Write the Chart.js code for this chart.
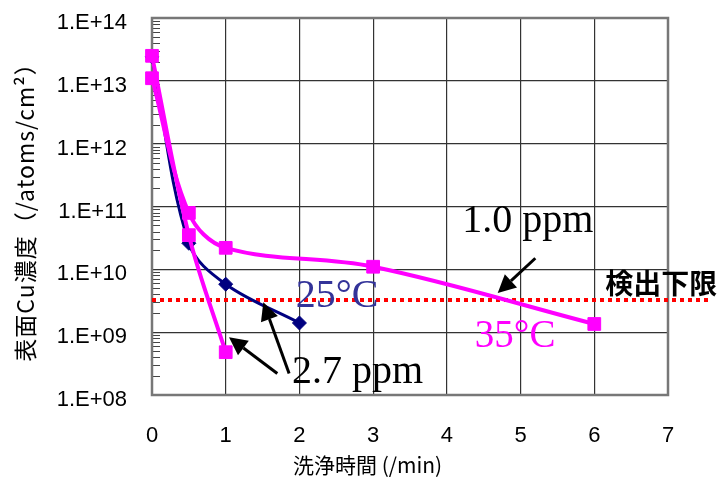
<!DOCTYPE html>
<html><head><meta charset="utf-8">
<script src="https://cdn.jsdelivr.net/npm/chart.js@4/dist/chart.umd.min.js"></script>
<style>html,body{margin:0;padding:0;background:#fff}#wrap{width:719px;height:479px}</style>
</head><body><div id="wrap"><canvas id="c" width="719" height="479"></canvas></div>
<script>
// ---- data ----
const xTicks = [0, 1, 2, 3, 4, 5, 6, 7];
const yTicks = [1e8, 1e9, 1e10, 1e11, 1e12, 1e13, 1e14];
const yTickLabels = ['1.E+08', '1.E+09', '1.E+10', '1.E+11', '1.E+12', '1.E+13', '1.E+14'];
const xTitle = '洗浄時間 (/min)';
const yTitle = '表面Cu濃度（/atoms/cm²）';

const time25 = [0, 0.5, 1, 2];
const conc25 = [2.4e13, 2.6e10, 5.8e9, 1.4e9];          // 25°C, 2.7 ppm
const time35a = [0, 0.5, 1];
const conc35a = [2.5e13, 3.5e10, 4.8e8];                // 35°C, 2.7 ppm
const time35b = [0, 0.5, 1, 3, 6];
const conc35b = [1.1e13, 7.9e10, 2.2e10, 1.1e10, 1.35e9]; // 35°C, 1.0 ppm
const limitX = [0, 7.57];
const limitY = [3.25e9, 3.25e9];                        // 検出下限

// annotations in data coordinates
const labels = [
  {text: '1.0 ppm', x: 4.21, y: 3.9e10, color: '#000', font: '40px "Liberation Serif", "Times New Roman", serif'},
  {text: '25°C', x: 1.95, y: 2.5e9, color: '#333399', font: '40px "Liberation Serif", "Times New Roman", serif'},
  {text: '35°C', x: 4.38, y: 5.8e8, color: '#FF00FF', font: '39px "Liberation Serif", "Times New Roman", serif'},
  {text: '2.7 ppm', x: 1.90, y: 1.55e8, color: '#000', font: '40px "Liberation Serif", "Times New Roman", serif'},
  {text: '検出下限', x: 6.15, y: 4.05e9, color: '#000', font: 'bold 28px "Noto Sans CJK JP", sans-serif'}
];
const arrows = [
  {x1: 5.20, y1: 1.5e10, x2: 4.69, y2: 4.2e9},
  {x1: 1.70, y1: 2.2e8, x2: 1.045, y2: 8.3e8},
  {x1: 1.86, y1: 2.2e8, x2: 1.51, y2: 3.0e9}
];

const pts = (xs, ys) => xs.map((x, i) => ({x: x, y: ys[i]}));

const decor = {
  id: 'decor',
  beforeDatasetsDraw(chart) {
    const ctx = chart.ctx, ys = chart.scales.y, a = chart.chartArea;
    ctx.save();
    ctx.strokeStyle = '#444'; ctx.lineWidth = 1;
    for (let n = 8; n < 14; n++) {
      for (let k = 2; k <= 9; k++) {
        const py = Math.round(ys.getPixelForValue(k * Math.pow(10, n))) + 0.5;
        ctx.beginPath(); ctx.moveTo(a.left, py); ctx.lineTo(a.left + 8, py); ctx.stroke();
      }
    }
    ctx.strokeStyle = '#777'; ctx.lineWidth = 2.5;
    ctx.strokeRect(a.left, a.top, a.right - a.left, a.bottom - a.top);
    ctx.restore();
  },
  afterDatasetsDraw(chart) {
    const ctx = chart.ctx, xs = chart.scales.x, ys = chart.scales.y, a = chart.chartArea;
    ctx.save();
    ctx.strokeStyle = '#000'; ctx.fillStyle = '#000'; ctx.lineWidth = 3;
    arrows.forEach(ar => {
      const x1 = xs.getPixelForValue(ar.x1), y1 = ys.getPixelForValue(ar.y1);
      const x2 = xs.getPixelForValue(ar.x2), y2 = ys.getPixelForValue(ar.y2);
      const ang = Math.atan2(y2 - y1, x2 - x1), L = 18, W = 9;
      const bx = x2 - L * Math.cos(ang), by = y2 - L * Math.sin(ang);
      ctx.beginPath(); ctx.moveTo(x1, y1); ctx.lineTo(bx, by); ctx.stroke();
      ctx.beginPath();
      ctx.moveTo(x2, y2);
      ctx.lineTo(bx + W * Math.sin(ang), by - W * Math.cos(ang));
      ctx.lineTo(bx - W * Math.sin(ang), by + W * Math.cos(ang));
      ctx.closePath(); ctx.fill();
    });
    ctx.textAlign = 'left'; ctx.textBaseline = 'alphabetic';
    labels.forEach(l => {
      ctx.font = l.font; ctx.fillStyle = l.color;
      ctx.fillText(l.text, xs.getPixelForValue(l.x), ys.getPixelForValue(l.y));
    });
    ctx.fillStyle = '#000';
    ctx.font = '21px "Noto Sans CJK JP", sans-serif';
    ctx.textAlign = 'left'; ctx.textBaseline = 'middle';
    ctx.fillText(xTitle, 293, 465);
    ctx.translate(25, (a.top + a.bottom) / 2);
    ctx.rotate(-Math.PI / 2);
    ctx.textAlign = 'center';
    ctx.font = '23px "Noto Sans CJK JP", sans-serif';
    ctx.letterSpacing = '1px';
    ctx.fillText(yTitle, 0, 0);
    ctx.restore();
  }
};

const noPad = s => { s.paddingTop = 0; s.paddingBottom = 0; s.paddingLeft = 0; s.paddingRight = 0; };

new Chart(document.getElementById('c'), {
  type: 'line',
  data: {
    datasets: [
      {label: '35°C 2.7ppm', data: pts(time35a, conc35a), borderColor: '#FF00FF', backgroundColor: '#FF00FF',
       borderWidth: 4, pointStyle: 'rect', pointRadius: 9, pointBorderWidth: 1, tension: 0.35, clip: false},
      {label: '35°C 1.0ppm', data: pts(time35b, conc35b), borderColor: '#FF00FF', backgroundColor: '#FF00FF',
       borderWidth: 4, pointStyle: 'rect', pointRadius: 9, pointBorderWidth: 1, tension: 0.35, clip: false},
      {label: '25°C', data: pts(time25, conc25), borderColor: '#000080', backgroundColor: '#000080',
       borderWidth: 3, pointStyle: 'rectRot', pointRadius: 7, pointBorderWidth: 1, tension: 0.35, clip: false},
      {label: 'limit', data: pts(limitX, limitY), borderColor: '#FF0000', borderWidth: 4,
       borderDash: [4, 4], pointRadius: 0, tension: 0, clip: false}
    ]
  },
  options: {
    responsive: false, animation: false, devicePixelRatio: 1,
    layout: {padding: {left: 0, right: 51, top: 18, bottom: 0}},
    plugins: {legend: {display: false}, tooltip: {enabled: false}},
    scales: {
      x: {
        type: 'linear', min: 0, max: 7,
        afterBuildTicks: s => { s.ticks = xTicks.map(v => ({value: v})); },
        afterFit: s => { s.height = 84; noPad(s); },
        grid: {color: '#333', lineWidth: 1.2, drawTicks: false},
        border: {display: false},
        ticks: {padding: 28, color: '#000', font: {family: '"Liberation Sans", Arial, sans-serif', size: 22}}
      },
      y: {
        type: 'logarithmic', min: 1e8, max: 1e14,
        afterBuildTicks: s => { s.ticks = yTicks.map(v => ({value: v})); },
        afterFit: s => { s.width = 152; noPad(s); },
        grid: {color: '#333', lineWidth: 1.2, drawTicks: false},
        border: {display: false},
        ticks: {padding: 25, labelOffset: 5, color: '#000', font: {family: '"Liberation Sans", Arial, sans-serif', size: 22},
          callback: (v) => { const i = yTicks.indexOf(v); return i >= 0 ? yTickLabels[i] : ''; }}
      }
    }
  },
  plugins: [decor]
});
</script></body></html>
